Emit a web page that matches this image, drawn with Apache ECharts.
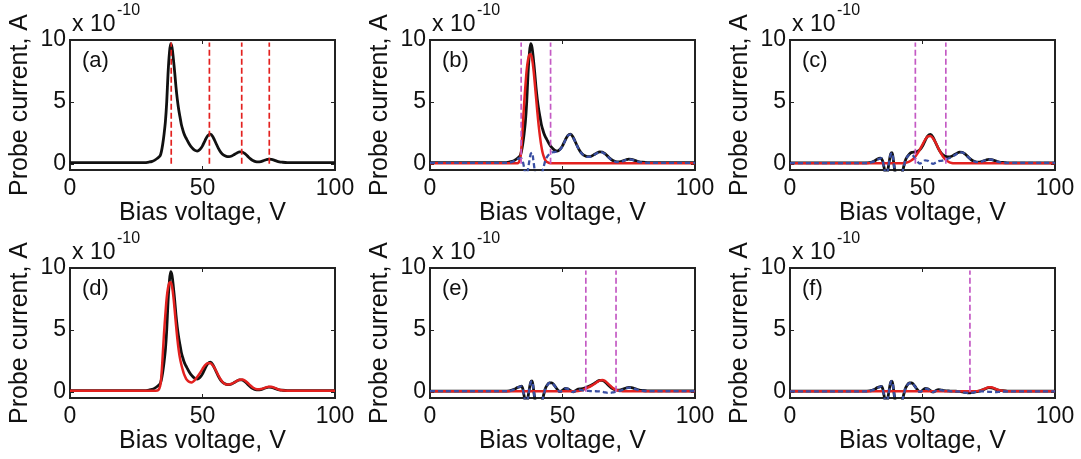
<!DOCTYPE html>
<html><head><meta charset="utf-8">
<script src="https://cdn.jsdelivr.net/npm/echarts@6/dist/echarts.min.js"></script>
<style>html,body{margin:0;padding:0;background:#fff}#c{width:1081px;height:459px}</style>
</head><body><div id="c"></div>
<script>
// Bias voltage grid (V)
const V = [0,5,10,15,20,25,28,30,31,32,33,34,34.5,35,35.5,36,36.5,37,37.5,38,38.5,39,39.5,40,40.5,41,41.5,42,42.5,43,43.5,44,45,46,47,48,49,50,51,52,53,54,55,56,57,58,59,60,61,62,63,64,65,66,67,68,69,70,71,72,73,74,75,76,77,78,79,80,82,85,88,90,95,100];
// Measured probe current (x1e-10 A)
const measured = [0.1,0.1,0.1,0.1,0.1,0.1,0.1,0.15,0.2,0.3,0.45,0.65,1.0,1.6,2.4,3.4,5.0,7.3,8.9,9.7,9.4,8.5,7.4,6.2,5.2,4.4,3.8,3.2,2.8,2.45,2.2,2.0,1.6,1.3,1.1,1.03,1.15,1.45,1.9,2.28,2.4,2.15,1.7,1.25,0.9,0.7,0.6,0.58,0.63,0.75,0.88,0.97,0.95,0.82,0.62,0.42,0.27,0.18,0.15,0.18,0.25,0.33,0.38,0.36,0.3,0.22,0.16,0.13,0.1,0.1,0.1,0.1,0.1,0.1];
// Fit of peak 1 (b)
const fit1 = [0.05,0.05,0.05,0.05,0.05,0.05,0.05,0.05,0.05,0.05,0.05,0.4,1.3,3.0,4.8,6.3,7.6,8.4,8.8,8.85,8.5,7.7,6.6,5.4,4.2,3.1,2.2,1.45,0.9,0.55,0.3,0.17,0.07,0.05,0.05,0.05,0.05,0.05,0.05,0.05,0.05,0.05,0.05,0.05,0.05,0.05,0.05,0.05,0.05,0.05,0.05,0.05,0.05,0.05,0.05,0.05,0.05,0.05,0.05,0.05,0.05,0.05,0.05,0.05,0.05,0.05,0.05,0.05,0.05,0.05,0.05,0.05,0.05,0.05];
// Residual after peak 1
const resid1 = [0.08,0.08,0.08,0.08,0.08,0.08,0.08,0.1,0.15,0.25,0.38,0.45,0.42,0.2,-0.3,-0.8,-0.9,-0.4,0.25,0.8,0.9,0.3,-0.5,-1.0,-1.2,-1.25,-1.15,-0.95,-0.6,-0.15,0.25,0.5,0.78,0.92,0.95,1.0,1.13,1.43,1.88,2.26,2.38,2.13,1.68,1.23,0.88,0.68,0.58,0.56,0.61,0.73,0.86,0.95,0.93,0.8,0.6,0.4,0.25,0.16,0.13,0.16,0.23,0.31,0.36,0.34,0.28,0.2,0.14,0.11,0.08,0.08,0.08,0.08,0.08,0.08];
// Fit of peak 2 (c)
const fit2 = [0.05,0.05,0.05,0.05,0.05,0.05,0.05,0.05,0.05,0.05,0.05,0.05,0.05,0.05,0.05,0.05,0.05,0.05,0.05,0.05,0.05,0.05,0.05,0.05,0.05,0.05,0.05,0.05,0.05,0.06,0.08,0.1,0.18,0.3,0.5,0.8,1.15,1.55,1.95,2.2,2.25,2.05,1.7,1.25,0.85,0.5,0.28,0.14,0.07,0.05,0.05,0.05,0.05,0.05,0.05,0.05,0.05,0.05,0.05,0.05,0.05,0.05,0.05,0.05,0.05,0.05,0.05,0.05,0.05,0.05,0.05,0.05,0.05,0.05];
// Residual after peak 2
const resid2 = [0.06,0.06,0.06,0.06,0.06,0.06,0.06,0.08,0.13,0.22,0.35,0.42,0.45,0.25,-0.3,-0.8,-0.9,-0.4,0.25,0.78,0.88,0.3,-0.5,-1.0,-1.2,-1.25,-1.15,-0.95,-0.6,-0.15,0.25,0.47,0.72,0.72,0.5,0.2,0.02,0.12,0.28,0.25,0.1,0.0,0.1,0.22,0.24,0.28,0.36,0.45,0.55,0.68,0.82,0.93,0.93,0.8,0.6,0.4,0.25,0.16,0.13,0.16,0.23,0.31,0.36,0.34,0.28,0.2,0.14,0.11,0.08,0.08,0.08,0.08,0.08,0.08];
// Fit of peak 3 (e)
const fit3 = [0.05,0.05,0.05,0.05,0.05,0.05,0.05,0.05,0.05,0.05,0.05,0.05,0.05,0.05,0.05,0.05,0.05,0.05,0.05,0.05,0.05,0.05,0.05,0.05,0.05,0.05,0.05,0.05,0.05,0.05,0.05,0.05,0.05,0.05,0.05,0.05,0.05,0.05,0.05,0.05,0.05,0.05,0.05,0.06,0.1,0.18,0.28,0.38,0.5,0.63,0.78,0.9,0.95,0.88,0.7,0.5,0.3,0.17,0.1,0.07,0.05,0.05,0.05,0.05,0.05,0.05,0.05,0.05,0.05,0.05,0.05,0.05,0.05,0.05];
// Residual after peak 3
const resid3 = [0.05,0.05,0.05,0.05,0.05,0.05,0.05,0.07,0.12,0.21,0.34,0.41,0.44,0.24,-0.3,-0.8,-0.9,-0.4,0.24,0.77,0.87,0.3,-0.5,-1.0,-1.2,-1.25,-1.15,-0.95,-0.6,-0.15,0.24,0.46,0.71,0.71,0.49,0.19,0.01,0.11,0.27,0.24,0.09,-0.01,0.09,0.18,0.14,0.1,0.08,0.07,0.05,0.05,0.04,0.03,0.0,-0.05,-0.08,-0.08,-0.05,0.0,0.04,0.1,0.18,0.27,0.33,0.32,0.26,0.18,0.12,0.09,0.06,0.06,0.06,0.06,0.06,0.06];
// Fit of peak 4 (f)
const fit4 = [0.05,0.05,0.05,0.05,0.05,0.05,0.05,0.05,0.05,0.05,0.05,0.05,0.05,0.05,0.05,0.05,0.05,0.05,0.05,0.05,0.05,0.05,0.05,0.05,0.05,0.05,0.05,0.05,0.05,0.05,0.05,0.05,0.05,0.05,0.05,0.05,0.05,0.05,0.05,0.05,0.05,0.05,0.05,0.05,0.05,0.05,0.05,0.05,0.05,0.05,0.05,0.05,0.05,0.05,0.05,0.05,0.05,0.05,0.07,0.12,0.2,0.3,0.37,0.37,0.3,0.2,0.12,0.08,0.05,0.05,0.05,0.05,0.05,0.05];
// Residual after peak 4
const resid4 = [0.04,0.04,0.04,0.04,0.04,0.04,0.04,0.06,0.11,0.2,0.33,0.4,0.43,0.23,-0.3,-0.8,-0.9,-0.4,0.23,0.76,0.86,0.3,-0.5,-1.0,-1.2,-1.25,-1.15,-0.95,-0.6,-0.15,0.23,0.45,0.7,0.7,0.48,0.18,0.0,0.1,0.26,0.23,0.08,-0.02,0.08,0.17,0.13,0.09,0.07,0.06,0.04,0.04,0.03,0.02,-0.01,-0.06,-0.09,-0.09,-0.06,-0.01,0.02,0.03,0.03,0.02,0.0,0.0,-0.02,-0.02,0.0,0.02,0.04,0.04,0.04,0.04,0.04,0.04];
// Total fit (d)
const fitTotal = [0.08,0.08,0.08,0.08,0.08,0.08,0.08,0.08,0.08,0.09,0.1,0.45,1.35,3.0,4.8,6.3,7.6,8.4,8.8,8.85,8.5,7.7,6.6,5.4,4.3,3.4,2.7,2.2,1.8,1.45,1.2,1.0,0.8,0.76,0.92,1.2,1.5,1.85,2.15,2.3,2.3,2.1,1.75,1.32,0.95,0.7,0.6,0.6,0.65,0.75,0.88,0.97,0.99,0.9,0.73,0.53,0.35,0.24,0.2,0.22,0.28,0.36,0.41,0.41,0.34,0.25,0.17,0.12,0.09,0.08,0.08,0.08,0.08,0.08];
// Peak-position markers (V)
const peaksA = [38.2, 52.6, 64.8, 75.2];
const windowB = [34.4, 45.5];
const windowC = [47.3, 58.8];
const windowE = [58.8, 70.2];
const windowF = [67.9];
const markerTop = 9.8;
// Axis ticks
const xTicks = [0, 50, 100];
const yTicks = [0, 5, 10];
const panelLabels = ['(a)','(b)','(c)','(d)','(e)','(f)'];

const pairs = (ys) => V.map((v, i) => [v, ys[i]]);
const FONT = 'Liberation Sans, Arial, sans-serif';
const lefts = [70, 430, 790];
const tops = [40, 268];
const W = 265, H = 130;

const grids = [], xAxes = [], yAxes = [], series = [], graphics = [];
const BLACK = '#111', RED = '#e3211f', BLUE = '#3a4fa3', MAG = '#c45ac4';

const panels = [
  {black: measured, fit: null, res: null, marks: peaksA, markColor: '#e3211f'},
  {black: measured, fit: fit1, res: resid1, marks: windowB, markColor: MAG},
  {black: resid1, fit: fit2, res: resid2, marks: windowC, markColor: MAG},
  {black: measured, fit: fitTotal, res: null, marks: [], markColor: MAG},
  {black: resid2, fit: fit3, res: resid3, marks: windowE, markColor: MAG},
  {black: resid3, fit: fit4, res: resid4, marks: windowF, markColor: MAG}
];

const AX = '#222';
panels.forEach((p, k) => {
  const r = Math.floor(k / 3), c = k % 3;
  const left = lefts[c], top = tops[r];
  grids.push({left: left, top: top, width: W, height: H, show: true, borderColor: AX, borderWidth: 1.8, backgroundColor: '#fff'});
  const gi = k;
  const xi = xAxes.length;
  xAxes.push({type: 'value', gridIndex: gi, min: 0, max: 100, position: 'bottom',
    axisLine: {show: true, onZero: false, lineStyle: {color: AX, width: 1.8}},
    axisTick: {show: true, inside: true, length: 4, customValues: xTicks, lineStyle: {color: AX}},
    axisLabel: {show: true, customValues: xTicks, color: '#111', fontSize: 23, fontFamily: FONT, margin: 7},
    splitLine: {show: false},
    name: 'Bias voltage, V', nameLocation: 'middle', nameGap: 25,
    nameTextStyle: {color: '#111', fontSize: 25, fontFamily: FONT, verticalAlign: 'top'}});
  xAxes.push({type: 'value', gridIndex: gi, min: 0, max: 100, position: 'top',
    axisLine: {show: true, onZero: false, lineStyle: {color: AX, width: 1.8}},
    axisTick: {show: true, inside: true, length: 4, customValues: xTicks, lineStyle: {color: AX}},
    axisLabel: {show: false}, splitLine: {show: false}});
  const yi = yAxes.length;
  yAxes.push({type: 'value', gridIndex: gi, min: -0.5, max: 10, position: 'left',
    axisLine: {show: true, onZero: false, lineStyle: {color: AX, width: 1.8}},
    axisTick: {show: true, inside: true, length: 4, customValues: yTicks, lineStyle: {color: AX}},
    axisLabel: {show: true, customValues: yTicks, color: '#111', fontSize: 23, fontFamily: FONT, margin: 4},
    splitLine: {show: false},
    name: 'Probe current, A', nameLocation: 'middle', nameGap: 37, nameRotate: 90,
    nameTextStyle: {color: '#111', fontSize: 25, fontFamily: FONT}});
  yAxes.push({type: 'value', gridIndex: gi, min: -0.5, max: 10, position: 'right',
    axisLine: {show: true, onZero: false, lineStyle: {color: AX, width: 1.8}},
    axisTick: {show: true, inside: true, length: 4, customValues: yTicks, lineStyle: {color: AX}},
    axisLabel: {show: false}, splitLine: {show: false}});

  series.push({type: 'line', xAxisIndex: xi, yAxisIndex: yi, data: pairs(p.black),
    showSymbol: false, smooth: 0.3, lineStyle: {color: BLACK, width: 2.8}, z: 2, silent: true});
  if (p.fit) series.push({type: 'line', xAxisIndex: xi, yAxisIndex: yi, data: pairs(p.fit),
    showSymbol: false, smooth: 0.3, lineStyle: {color: RED, width: 2.5}, z: 3, silent: true});
  if (p.res) series.push({type: 'line', xAxisIndex: xi, yAxisIndex: yi, data: pairs(p.res),
    showSymbol: false, smooth: 0.3, lineStyle: {color: BLUE, width: 2.3, type: [5, 3]}, z: 4, silent: true});
  p.marks.forEach(m => series.push({type: 'line', xAxisIndex: xi, yAxisIndex: yi, data: [[m, 0], [m, markerTop]],
    showSymbol: false, lineStyle: {color: p.markColor, width: 1.7, type: [6, 3]}, z: 5, silent: true}));

  graphics.push({type: 'text', left: left + 2, top: top - 27, style: {text: 'x 10', fontSize: 23, fontFamily: FONT, fill: '#111'}});
  graphics.push({type: 'text', left: left + 47, top: top - 37, style: {text: '-10', fontSize: 16, fontFamily: FONT, fill: '#111'}});
  graphics.push({type: 'text', left: left + 12, top: top + 10, style: {text: panelLabels[k], fontSize: 22, fontFamily: FONT, fill: '#111'}});
});

const chart = echarts.init(document.getElementById('c'), null, {renderer: 'canvas'});
chart.setOption({animation: false, grid: grids, xAxis: xAxes, yAxis: yAxes, series: series, graphic: graphics});
</script></body></html>
